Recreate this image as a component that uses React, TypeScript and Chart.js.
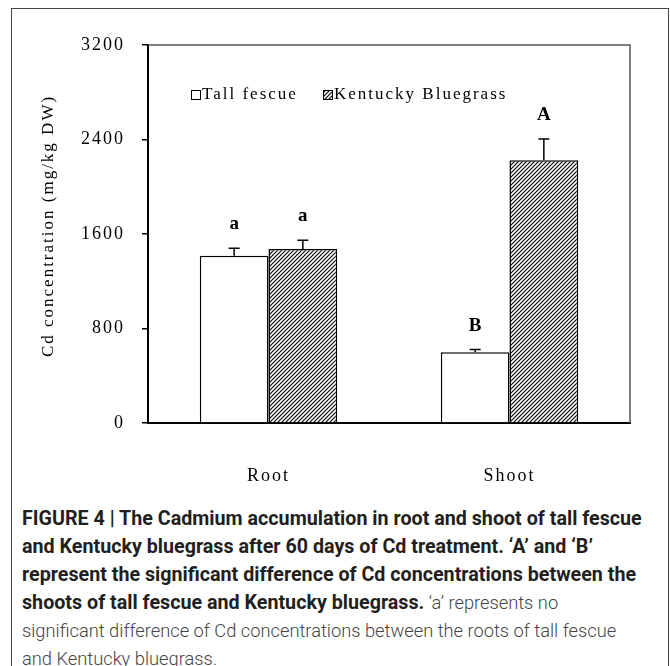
import React, { useEffect, useRef } from 'react';
import { Chart, registerables } from 'chart.js';

Chart.register(...registerables);

const categories = ['Root', 'Shoot'];
const seriesNames = ['Tall fescue', 'Kentucky Bluegrass'];
const tallFescue = [1415, 600];
const tallFescueErr = [65, 22];
const kentucky = [1472, 2225];
const kentuckyErr = [76, 180];
const tallFescueLetters = ['a', 'B'];
const kentuckyLetters = ['a', 'A'];
const yTicks = [0, 800, 1600, 2400, 3200];
const yTitle = 'Cd concentration (mg/kg DW)';

const captionBold1 = 'FIGURE 4 | The Cadmium accumulation in root and shoot of tall fescue';
const captionBold2 = 'and Kentucky bluegrass after 60 days of Cd treatment. \u2018A\u2019 and \u2018B\u2019';
const captionBold3 = 'represent the significant difference of Cd concentrations between the';
const captionBold4 = 'shoots of tall fescue and Kentucky bluegrass.';
const captionReg4 = ' \u2018a\u2019 represents no';
const captionReg5 = 'significant difference of Cd concentrations between the roots of tall fescue';
const captionReg6 = 'and Kentucky bluegrass.';

const SERIF = '"Liberation Serif", "DejaVu Serif", serif';

function makeHatch(): CanvasPattern | string {
  const p = 4;
  const c = document.createElement('canvas');
  c.width = p;
  c.height = p;
  const g = c.getContext('2d');
  if (!g) return '#888';
  g.fillStyle = '#fff';
  g.fillRect(0, 0, p, p);
  g.strokeStyle = '#000';
  g.lineWidth = 1.1;
  g.beginPath();
  g.moveTo(0, p);
  g.lineTo(p, 0);
  g.moveTo(-1, 1);
  g.lineTo(1, -1);
  g.moveTo(p - 1, p + 1);
  g.lineTo(p + 1, p - 1);
  g.stroke();
  const pat = g.createPattern(c, 'repeat');
  return pat || '#888';
}

export default function App() {
  const ref = useRef<HTMLCanvasElement | null>(null);

  useEffect(() => {
    if (!ref.current) return;
    const hatch = makeHatch();
    const errs = [tallFescueErr, kentuckyErr];
    const letters = [tallFescueLetters, kentuckyLetters];

    const spacing = {
      id: 'spacing',
      beforeUpdate(chart: any) {
        (chart.ctx as any).letterSpacing = '2px';
      },
      beforeDraw(chart: any) {
        (chart.ctx as any).letterSpacing = '2px';
      },
    };

    const overlay = {
      id: 'overlay',
      afterDatasetsDraw(chart: any) {
        const ctx = chart.ctx as CanvasRenderingContext2D;
        const { left, top, right, bottom } = chart.chartArea;
        const ys = chart.scales.y;
        ctx.save();
        (ctx as any).letterSpacing = '2px';
        ctx.strokeStyle = '#555';
        ctx.lineWidth = 1.5;
        ctx.beginPath();
        ctx.moveTo(left, top);
        ctx.lineTo(right, top);
        ctx.lineTo(right, bottom);
        ctx.stroke();

        chart.data.datasets.forEach((ds: any, i: number) => {
          const meta = chart.getDatasetMeta(i);
          meta.data.forEach((bar: any, j: number) => {
            const v = ds.data[j] as number;
            const e = errs[i][j];
            const y0 = ys.getPixelForValue(v);
            const y1 = ys.getPixelForValue(v + e);
            const x = bar.x;
            ctx.strokeStyle = '#000';
            ctx.lineWidth = 1.5;
            ctx.beginPath();
            ctx.moveTo(x, y0);
            ctx.lineTo(x, y1);
            ctx.moveTo(x - 5.5, y1);
            ctx.lineTo(x + 5.5, y1);
            ctx.stroke();
            ctx.fillStyle = '#000';
            ctx.font = `bold 19px ${SERIF}`;
            ctx.textAlign = 'center';
            ctx.textBaseline = 'alphabetic';
            ctx.fillText(letters[i][j], x + 1, y1 - 19);
          });
        });

        ctx.font = `17px ${SERIF}`;
        ctx.textAlign = 'left';
        ctx.textBaseline = 'middle';
        const ly = top + 50;
        const items = [
          { x: left + 43, fill: '#fff' as any, label: chart.data.datasets[0].label },
          { x: left + 175, fill: hatch, label: chart.data.datasets[1].label },
        ];
        items.forEach((it) => {
          ctx.fillStyle = it.fill;
          ctx.fillRect(it.x, ly - 5, 10, 10);
          ctx.strokeStyle = '#000';
          ctx.lineWidth = 1;
          ctx.strokeRect(it.x + 0.5, ly - 4.5, 9, 9);
          ctx.fillStyle = '#000';
          ctx.fillText(it.label, it.x + 11, ly);
        });

        ctx.save();
        ctx.translate(49, (top + bottom) / 2 - 8);
        ctx.rotate(-Math.PI / 2);
        ctx.font = `17px ${SERIF}`;
        ctx.textAlign = 'center';
        ctx.textBaseline = 'middle';
        ctx.fillStyle = '#000';
        ctx.fillText(yTitle, 0, 0);
        ctx.restore();
        ctx.restore();
      },
    };

    const chart = new Chart(ref.current, {
      type: 'bar',
      data: {
        labels: categories,
        datasets: [
          {
            label: seriesNames[0],
            data: tallFescue,
            backgroundColor: '#fff',
            borderColor: '#000',
            borderWidth: 1.5,
            categoryPercentage: 0.57,
            barPercentage: 1,
          },
          {
            label: seriesNames[1],
            data: kentucky,
            backgroundColor: hatch as any,
            borderColor: '#000',
            borderWidth: 1.5,
            categoryPercentage: 0.57,
            barPercentage: 1,
          },
        ],
      },
      options: {
        animation: false,
        responsive: false,
        layout: { padding: { left: 0, top: 45, right: 40, bottom: 0 } },
        plugins: {
          legend: { display: false },
          tooltip: { enabled: false },
          title: { display: false },
        },
        scales: {
          x: {
            grid: { display: false, drawTicks: false },
            border: { display: true, color: '#000', width: 2 },
            ticks: {
              color: '#000',
              font: { family: SERIF, size: 18 },
              padding: 42,
            },
            afterFit: (s: any) => {
              s.height = 77;
            },
          },
          y: {
            min: yTicks[0],
            max: yTicks[yTicks.length - 1],
            afterBuildTicks: (s: any) => {
              s.ticks = yTicks.map((v) => ({ value: v }));
            },
            grid: {
              display: true,
              drawOnChartArea: false,
              drawTicks: true,
              tickLength: 6,
              color: '#000',
              lineWidth: 1.5,
            },
            border: { display: true, color: '#000', width: 2 },
            ticks: {
              color: '#000',
              font: { family: SERIF, size: 18 },
              padding: 17,
              callback: (v: any) => String(v),
            },
            afterFit: (s: any) => {
              s.width = 148;
            },
          },
        },
      },
      plugins: [spacing, overlay],
    });
    return () => chart.destroy();
  }, []);

  const bold: React.CSSProperties = {
    fontFamily: 'Roboto, "Liberation Sans", sans-serif',
    fontWeight: 700,
    color: '#231f20',
    fontSize: 19.7,
  };
  const reg: React.CSSProperties = {
    fontFamily: 'Roboto, "Liberation Sans", sans-serif',
    fontWeight: 300,
    color: '#444',
    fontSize: 18.3,
  };
  const line: React.CSSProperties = {
    whiteSpace: 'nowrap',
    height: 28,
    lineHeight: '28px',
  };

  return (
    <div>
      <div
        style={{
          position: 'absolute',
          left: 11,
          top: 8,
          width: 656,
          height: 670,
          border: '1px solid #444',
          background: '#fff',
        }}
      />
      <canvas
        ref={ref}
        width={670}
        height={500}
        style={{ position: 'absolute', left: 0, top: 0, width: 670, height: 500 }}
      />
      <div style={{ position: 'absolute', left: 22, top: 505 }}>
        <div style={{ ...line, ...bold }}>{captionBold1}</div>
        <div style={{ ...line, ...bold }}>{captionBold2}</div>
        <div style={{ ...line, ...bold }}>{captionBold3}</div>
        <div style={line}>
          <span style={bold}>{captionBold4}</span>
          <span style={reg}>{captionReg4}</span>
        </div>
        <div style={{ ...line, ...reg }}>{captionReg5}</div>
        <div style={{ ...line, ...reg }}>{captionReg6}</div>
      </div>
    </div>
  );
}
